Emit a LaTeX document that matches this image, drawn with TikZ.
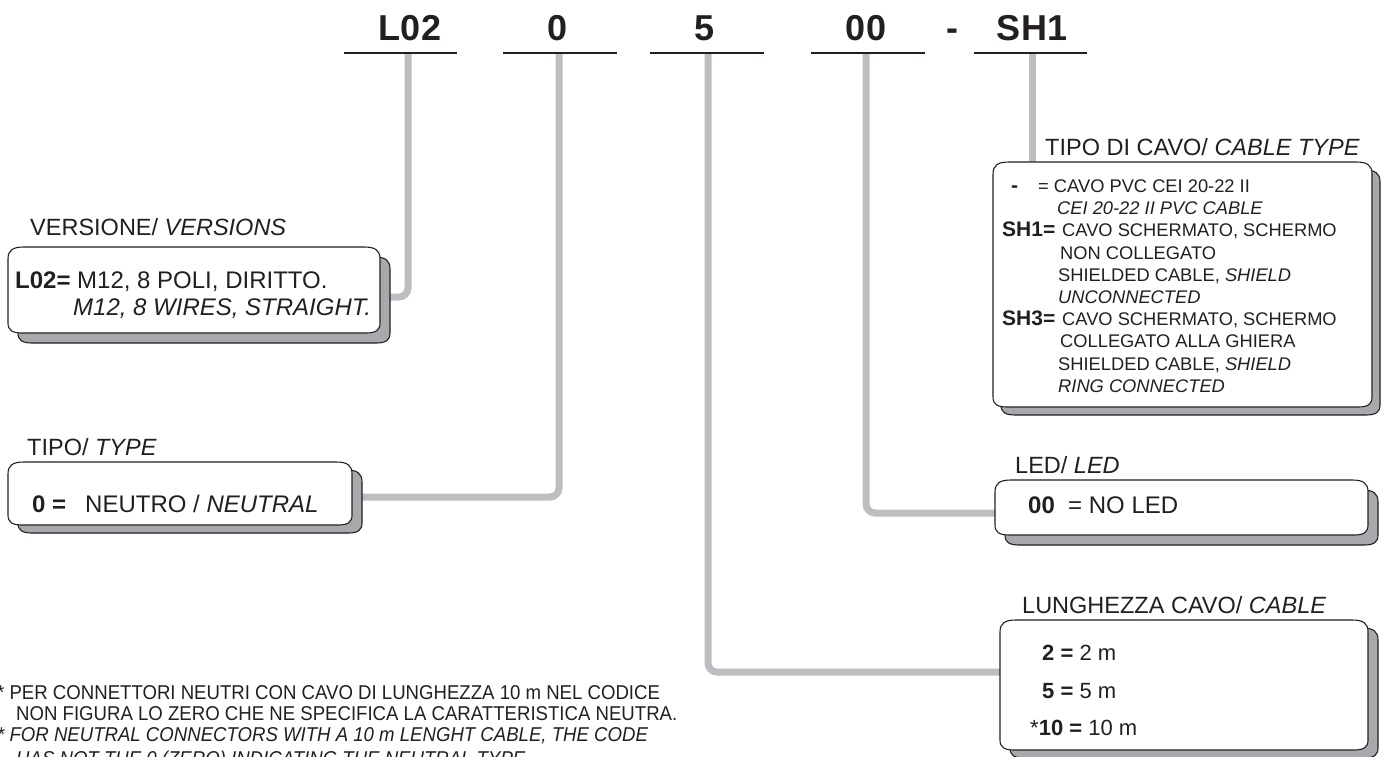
\documentclass[tikz,border=0pt]{standalone}
\usepackage{fontspec}
\setmainfont{Liberation Sans}
\newfontfamily\narrowfont[FakeStretch=0.93]{Liberation Sans}
\definecolor{conngray}{RGB}{189,190,193}
\definecolor{shadowgray}{RGB}{167,169,172}
\definecolor{inkk}{RGB}{35,31,32}
\newcommand\pillow[6]{%
  \begin{scope}[shift={(#5,#6)}]
    \draw[boxline,fill=shadowgray] (#1,{#2+12}) .. controls (#1,{#2+3}) and ({#1+5},#2) .. ({#1+16},#2) -- ({#3-16},#2) .. controls ({#3-5},#2) and (#3,{#2+3}) .. (#3,{#2+12}) -- (#3,{#4-10}) .. controls (#3,{#4-3}) and ({#3-4},#4) .. ({#3-14},#4) -- ({#1+14},#4) .. controls ({#1+4},#4) and (#1,{#4-3}) .. (#1,{#4-10}) -- cycle;
  \end{scope}
  \draw[boxline,fill=white] (#1,{#2+12}) .. controls (#1,{#2+3}) and ({#1+5},#2) .. ({#1+16},#2) -- ({#3-16},#2) .. controls ({#3-5},#2) and (#3,{#2+3}) .. (#3,{#2+12}) -- (#3,{#4-10}) .. controls (#3,{#4-3}) and ({#3-4},#4) .. ({#3-14},#4) -- ({#1+14},#4) .. controls ({#1+4},#4) and (#1,{#4-3}) .. (#1,{#4-10}) -- cycle;}
\begin{document}
\begin{tikzpicture}[x=1pt,y=-1pt,
  conn/.style={draw=conngray, line width=7pt, rounded corners=9pt},
  uline/.style={draw=inkk, line width=2.5pt},
  boxline/.style={draw=inkk, line width=1.1pt},
  hdr/.style={font=\fontsize{36}{40}\selectfont\bfseries, anchor=base, inner sep=0pt, text=inkk},
  ttl/.style={font=\fontsize{23.5}{28}\selectfont, anchor=base west, inner sep=0pt, text=inkk},
  big/.style={font=\fontsize{24}{28}\selectfont, anchor=base west, inner sep=0pt, text=inkk},
  mid/.style={font=\fontsize{22}{26}\selectfont, anchor=base west, inner sep=0pt, text=inkk},
  sml/.style={font=\fontsize{18.3}{22}\selectfont, anchor=base west, inner sep=0pt, text=inkk},
  smb/.style={font=\fontsize{21}{24}\selectfont\bfseries, anchor=base west, inner sep=0pt, text=inkk},
  note/.style={font=\narrowfont\fontsize{20}{24}\selectfont, anchor=base west, inner sep=0pt, text=inkk}]
\useasboundingbox (0,0) rectangle (1386,756);
\fill[white] (0,0) rectangle (1386,756);

% header
\node[hdr] (hL) at (410,40) {L02};
\node[hdr] (h0) at (558,40) {0};
\node[hdr] (h5) at (705,40) {5};
\node[hdr] (h00) at (866,40) {00};
\node[hdr] (hd) at (952,40) {-};
\node[hdr] (hS) at (1032,40) {SH1};

\coordinate (cL) at (408,53);
\coordinate (c0) at (559,53);
\coordinate (c5) at (708,53);
\coordinate (c00) at (866,53);
\coordinate (cS) at (1032,53);

\coordinate (eV) at (390,297);
\coordinate (eT) at (362,497);
\coordinate (eL) at (1000,672);
\coordinate (eD) at (995,513);
\coordinate (eC) at (1032,170);

% connectors
\draw[conn] (cL) |- (eV);
\draw[conn] (c0) |- (eT);
\draw[conn] (c5) |- (eL);
\draw[conn] (c00) |- (eD);
\draw[conn] (cS) -- (eC);

% underlines
\draw[uline] (344,53) -- (457,53);
\draw[uline] (503,53) -- (617,53);
\draw[uline] (650,53) -- (764,53);
\draw[uline] (811,53) -- (925,53);
\draw[uline] (974,53) -- (1087,53);

% boxes
\pillow{8}{247}{380}{333}{10}{10}
\pillow{8}{462}{352}{525}{10}{8}
\pillow{993}{162}{1372}{407}{8}{8}
\pillow{995}{480}{1368}{535}{10}{10}
\pillow{1000}{620}{1368}{750}{10}{8}

% VERSIONS
\node[ttl] (tV) at (30,235) {VERSIONE/ \textit{VERSIONS}};
\node[big,font=\fontsize{24}{28}\selectfont\bfseries] (vk) at (15,288) {L02=};
\node[big] (v1) at (77,288) {M12, 8 POLI, DIRITTO.};
\node[big] (v2) at (73,315) {\itshape M12, 8 WIRES, STRAIGHT.};

% TYPE
\node[ttl] (tT) at (27,455) {TIPO/ \textit{TYPE}};
\node[big,font=\fontsize{24}{28}\selectfont\bfseries] (tk) at (32,512) {0 =};
\node[big] (t1) at (85,512) {NEUTRO / \textit{NEUTRAL}};

% CABLE TYPE
\node[ttl] (tC) at (1045,155) {TIPO DI CAVO/ \textit{CABLE TYPE}};
\node[smb] (k0) at (1011,192) {-};
\node[sml] (c1) at (1038,192) {= CAVO PVC CEI 20-22 II};
\node[sml] (c2) at (1057,214) {\itshape CEI 20-22 II PVC CABLE};
\node[smb] (k1) at (1002,236) {SH1=};
\node[sml] (c3) at (1062,236) {CAVO SCHERMATO, SCHERMO};
\node[sml] (c4) at (1060,259) {NON COLLEGATO};
\node[sml] (c5t) at (1058,281) {SHIELDED CABLE, \textit{SHIELD}};
\node[sml] (c6) at (1058,303) {\itshape UNCONNECTED};
\node[smb] (k2) at (1002,325) {SH3=};
\node[sml] (c7) at (1062,325) {CAVO SCHERMATO, SCHERMO};
\node[sml] (c8) at (1060,347) {COLLEGATO ALLA GHIERA};
\node[sml] (c9) at (1058,370) {SHIELDED CABLE, \textit{SHIELD}};
\node[sml] (c10) at (1058,392) {\itshape RING CONNECTED};

% LED
\node[ttl] (tD) at (1015,473) {LED/ \textit{LED}};
\node[big,font=\fontsize{24}{28}\selectfont\bfseries] (dk) at (1028,513) {00};
\node[big] (d1) at (1068,513) {= NO LED};

% LUNGHEZZA
\node[ttl] (tL) at (1022,613) {LUNGHEZZA CAVO/ \textit{CABLE}};
\node[mid] (l1) at (1042,660) {\textbf{2 =} 2 m};
\node[mid] (l2) at (1042,698) {\textbf{5 =} 5 m};
\node[mid] (l3) at (1030,735) {*\textbf{10 =} 10 m};

% footnote
\node[note] (n1) at (-3,699) {* PER CONNETTORI NEUTRI CON CAVO DI LUNGHEZZA 10 m NEL CODICE};
\node[note] (n2) at (16,720) {NON FIGURA LO ZERO CHE NE SPECIFICA LA CARATTERISTICA NEUTRA.};
\node[note] (n3) at (-3,741) {\itshape * FOR NEUTRAL CONNECTORS WITH A 10 m LENGHT CABLE, THE CODE};
\node[note] (n4) at (16,765) {\itshape HAS NOT THE 0 (ZERO) INDICATING THE NEUTRAL TYPE.};
\end{tikzpicture}
\end{document}
